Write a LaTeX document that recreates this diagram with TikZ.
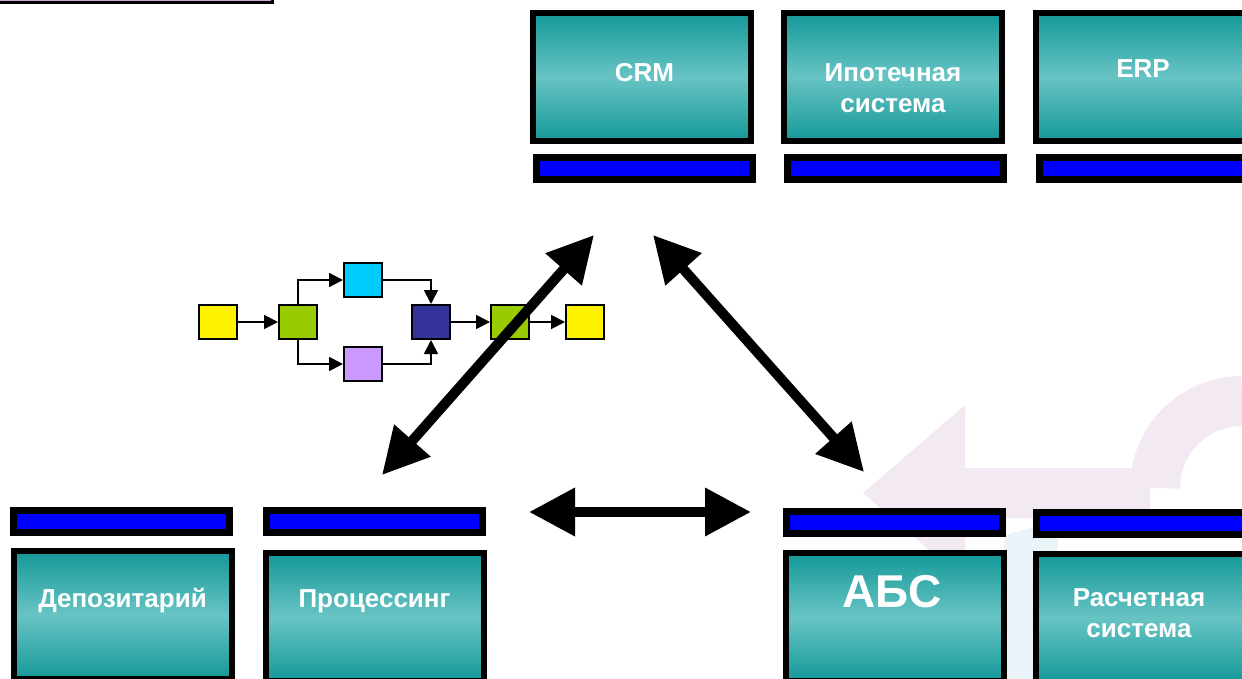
\documentclass[tikz,border=0pt]{standalone}
\usepackage{fontspec}
\setmainfont{Liberation Sans}
\usetikzlibrary{arrows.meta}
\definecolor{tealdark}{RGB}{20,152,152}
\definecolor{teallight}{RGB}{104,196,196}
\definecolor{pgreen}{RGB}{153,204,0}
\definecolor{pcyan}{RGB}{0,204,255}
\definecolor{plilac}{RGB}{204,153,255}
\definecolor{pnavy}{RGB}{51,51,153}
\definecolor{wmpink}{RGB}{243,233,242}
\definecolor{wmblue}{RGB}{234,243,248}
\definecolor{lilacbar}{RGB}{210,160,215}
\tikzset{
  sysbox/.style={draw=black,line width=6pt,minimum width=218pt,minimum height=128pt,top color=tealdark,bottom color=tealdark,middle color=teallight},
  busbar/.style={draw=black,line width=7pt,fill=blue,minimum width=216pt,minimum height=22pt},
  systext/.style={text=white,font=\bfseries\fontsize{26}{31}\selectfont,align=center},
  pbox/.style={draw=black,line width=2pt,minimum width=38pt,minimum height=34pt},
  flow/.style={line width=1.8pt,-{Triangle[length=14pt,width=14pt]}},
  bigarrow/.style={line width=10pt,{Triangle[length=46pt,width=46pt]}-{Triangle[length=46pt,width=46pt]}}
}
\begin{document}
\begin{tikzpicture}[x=1pt,y=-1pt]
    \useasboundingbox(0,0)rectangle(1242,679);
    \fill[wmpink](863,493)--(965,405)--(965,468)--(1150,468)--(1150,518)--(965,518)--(965,581)--cycle;
    \draw[wmpink,line width=50pt](1155,488)arc[start angle=180,end angle=90,radius=87pt];
    \fill[wmblue](1005,535)--(1060,520)--(1045,679)--(995,679)--cycle;
    \draw[line width=3pt,fill=lilacbar](-5,-40)rectangle(272,3);

    \node[sysbox](crm)at(642,77){};
    \node[sysbox](ipot)at(893,77){};
    \node[sysbox](erp)at(1145,77){};
    \node[busbar](crmbus)at(644.5,168.5){};
    \node[busbar](ipotbus)at(895,168.5){};
    \node[busbar](erpbus)at(1147,168.5){};
    \node[systext,anchor=base](crmt)at(644.5,81.5){CRM};
    \node[systext](ipott)at(893,88){Ипотечная\\система};
    \node[systext,anchor=base](erpt)at(1143,78){ERP};

    \node[busbar](depbus)at(121.5,521.5){};
    \node[busbar](procbus)at(374.5,521.5){};
    \node[busbar](absbus)at(894,522.5){};
    \node[busbar](raschbus)at(1144,523.5){};
    \node[sysbox](dep)at(122.5,615){};
    \node[sysbox](proc)at(375,617){};
    \node[sysbox](abs)at(895,617){};
    \node[sysbox](rasch)at(1145,618){};
    \node[systext,anchor=base](dept)at(122.5,607){Депозитарий};
    \node[systext,anchor=base](proct)at(374.5,607){Процессинг};
    \node[systext,anchor=base,font=\bfseries\fontsize{46}{50}\selectfont](abst)at(892,607){АБС};
    \node[systext](rascht)at(1139,613.5){Расчетная\\система};

    \node[pbox,fill=yellow](y1)at(218,322){};
    \node[pbox,fill=pgreen](g1)at(298,322){};
    \node[pbox,fill=pcyan](cy)at(363,280){};
    \node[pbox,fill=plilac](li)at(363,364){};
    \node[pbox,fill=pnavy](nv)at(431,322){};
    \node[pbox,fill=pgreen](g2)at(510,322){};
    \node[pbox,fill=yellow](y2)at(585,322){};
    \draw[flow](y1)--(g1);
    \draw[flow](g1)|-(cy);
    \draw[flow](g1)|-(li);
    \draw[flow](cy)-|(nv);
    \draw[flow](li)-|(nv);
    \draw[flow](nv)--(g2);
    \draw[flow](g2)--(y2);

    \coordinate(leftlow)at(382,475);
    \coordinate(lefthigh)at(594,235);
    \coordinate(righthigh)at(653,235);
    \coordinate(rightlow)at(864,472);
    \coordinate(midl)at(529,512);
    \coordinate(midr)at(751,512);
    \draw[bigarrow](leftlow)--(lefthigh);
    \draw[bigarrow](righthigh)--(rightlow);
    \draw[bigarrow](midl)--(midr);
\end{tikzpicture}
\end{document}
